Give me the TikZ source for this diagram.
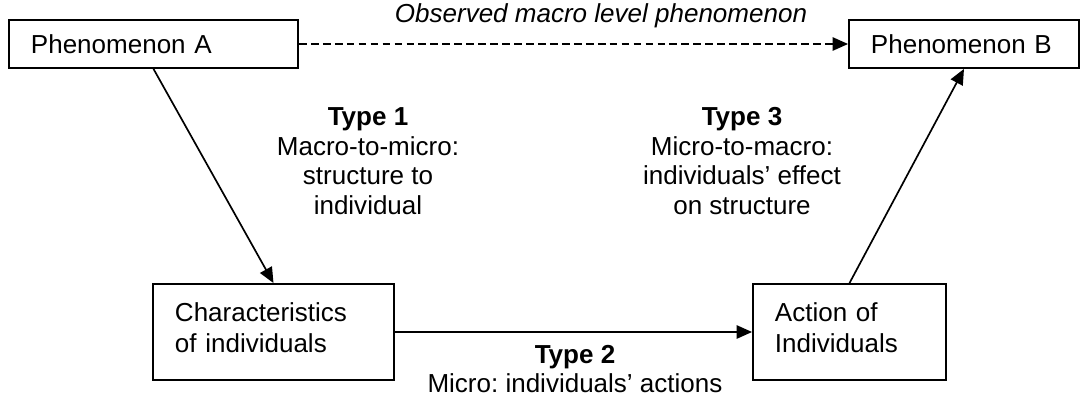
\documentclass[tikz,border=0pt]{standalone}
\usepackage{fontspec}
\setmainfont{Liberation Sans}
\usetikzlibrary{arrows.meta}
\frenchspacing

\tikzset{
  box/.style={draw, line width=1.3pt, inner xsep=0.55cm, inner ysep=0pt, align=left},
  link/.style={line width=1.2pt, -{Triangle[length=11pt,width=9.5pt]}},
  typelabel/.style={align=center}
}

\begin{document}
\begin{tikzpicture}[x=0.025cm, y=-0.025cm, font=\fontsize{18.5}{21}\selectfont]
    \useasboundingbox (0,0) rectangle (1081,402);

    % Macro level boxes
    \node[box, text width=6.125cm, minimum height=1.2cm] (phenA) at (153.5,44) {Phenomenon A};
    \node[box, text width=4.65cm, minimum height=1.2cm] (phenB) at (964,44) {Phenomenon B};

    % Micro level boxes (text sits a little above the middle)
    \node[box, text width=4.925cm, minimum height=2.4cm, text depth=1.0cm,
          font=\fontsize{18.5}{22}\selectfont] (charInd) at (273.5,332) {Characteristics\\of individuals};
    \node[box, text width=3.725cm, minimum height=2.4cm, text depth=1.0cm,
          font=\fontsize{18.5}{22}\selectfont] (actInd) at (849.5,332) {Action of\\Individuals};

    % Observed relation on the macro level
    \draw[link, dash pattern=on 5.5pt off 3pt] (phenA.east) -- (phenB.west);
    \node[font=\fontsize{18.5}{21}\selectfont\itshape] (observed) at (601,16) {Observed macro level phenomenon};

    % The three transitions
    \draw[link] (phenA.south) -- (charInd.north);
    \draw[link] (charInd.east) -- (actInd.west);
    \draw[link] (actInd.north) -- (phenB.south);

    \node[typelabel] (type1) at (368,161) {\textbf{Type 1}\\Macro-to-micro:\\structure to\\individual};
    \node[typelabel] (type3) at (742,161) {\textbf{Type 3}\\Micro-to-macro:\\individuals’ effect\\on structure};
    \node[typelabel] (type2) at (575,369) {\textbf{Type 2}\\Micro: individuals’ actions};
\end{tikzpicture}
\end{document}
